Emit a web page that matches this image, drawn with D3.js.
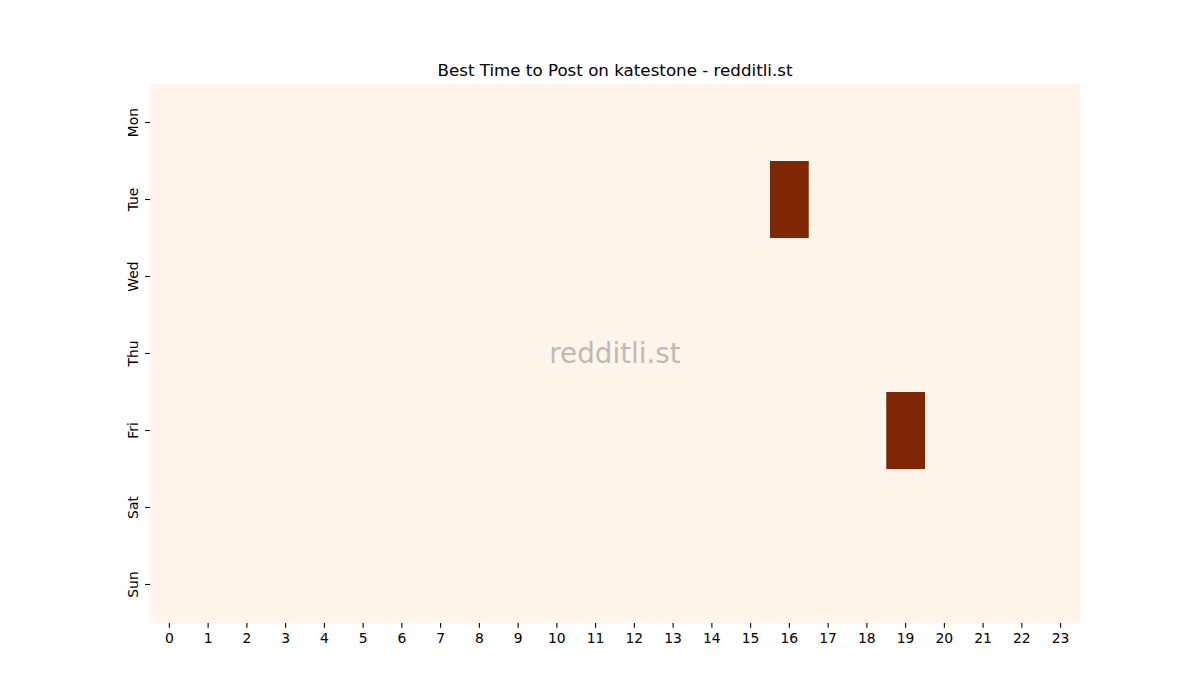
<!DOCTYPE html>
<html>
<head>
<meta charset="utf-8">
<script src="https://cdn.jsdelivr.net/npm/d3@7"></script>
<style>
  body { margin: 0; background: #fff; }
  text { font-family: "DejaVu Sans", sans-serif; }
</style>
</head>
<body>
<div id="chart-area"></div>
<script>
var days = ["Mon", "Tue", "Wed", "Thu", "Fri", "Sat", "Sun"];
var hours = d3.range(0, 24);
// post score per day (rows) and hour (columns)
var mon = [0,0,0,0,0,0,0,0,0,0,0,0,0,0,0,0,0,0,0,0,0,0,0,0];
var tue = [0,0,0,0,0,0,0,0,0,0,0,0,0,0,0,0,1,0,0,0,0,0,0,0];
var wed = [0,0,0,0,0,0,0,0,0,0,0,0,0,0,0,0,0,0,0,0,0,0,0,0];
var thu = [0,0,0,0,0,0,0,0,0,0,0,0,0,0,0,0,0,0,0,0,0,0,0,0];
var fri = [0,0,0,0,0,0,0,0,0,0,0,0,0,0,0,0,0,0,0,1,0,0,0,0];
var sat = [0,0,0,0,0,0,0,0,0,0,0,0,0,0,0,0,0,0,0,0,0,0,0,0];
var sun = [0,0,0,0,0,0,0,0,0,0,0,0,0,0,0,0,0,0,0,0,0,0,0,0];
var values = [mon, tue, wed, thu, fri, sat, sun];

var margin = {left: 150, right: 120, top: 84, bottom: 77};
var width = 1200 - margin.left - margin.right;
var height = 700 - margin.top - margin.bottom;

var svg = d3.select("#chart-area")
  .append("svg")
  .attr("width", 1200)
  .attr("height", 700);

var g = svg.append("g")
  .attr("transform", "translate(" + margin.left + "," + margin.top + ")");

var x = d3.scaleBand().domain(hours).range([0, width]);
var y = d3.scaleBand().domain(days).range([0, height]);
var color = d3.scaleSequential(d3.interpolateOranges).domain([0, 1]);

var cells = [];
values.forEach((row, i) => {
  row.forEach((v, j) => {
    cells.push({day: days[i], hour: hours[j], value: v});
  });
});

g.selectAll("rect.cell")
  .data(cells)
  .enter().append("rect")
  .attr("class", "cell")
  .attr("x", d => x(d.hour))
  .attr("y", d => y(d.day))
  .attr("width", x.bandwidth() + 0.5)
  .attr("height", y.bandwidth() + 0.5)
  .attr("fill", d => color(d.value));

var xAxis = g.append("g")
  .attr("transform", "translate(0," + height + ")")
  .call(d3.axisBottom(x).tickSize(4.86).tickPadding(4.9));
var yAxis = g.append("g")
  .call(d3.axisLeft(y).tickSize(4.86).tickPadding(4.9));

[xAxis, yAxis].forEach(ax => {
  ax.select(".domain").remove();
  ax.selectAll("line").attr("stroke", "#000").attr("stroke-width", 1.1);
  ax.selectAll("text")
    .attr("fill", "#000")
    .style("font-size", "13.9px")
    .style("font-family", "DejaVu Sans, sans-serif");
});

yAxis.selectAll(".tick text")
  .attr("x", null)
  .attr("dy", null)
  .attr("text-anchor", "middle")
  .attr("transform", "translate(-12,0) rotate(-90)");

g.append("text")
  .attr("x", width / 2)
  .attr("y", height / 2)
  .attr("dy", "0.35em")
  .attr("text-anchor", "middle")
  .attr("fill", "#808080")
  .attr("opacity", 0.5)
  .style("font-size", "27.8px")
  .text("redditli.st");

svg.append("text")
  .attr("x", margin.left + width / 2)
  .attr("y", margin.top - 8.3)
  .attr("text-anchor", "middle")
  .attr("fill", "#000")
  .style("font-size", "16.7px")
  .text("Best Time to Post on katestone - redditli.st");
</script>
</body>
</html>
